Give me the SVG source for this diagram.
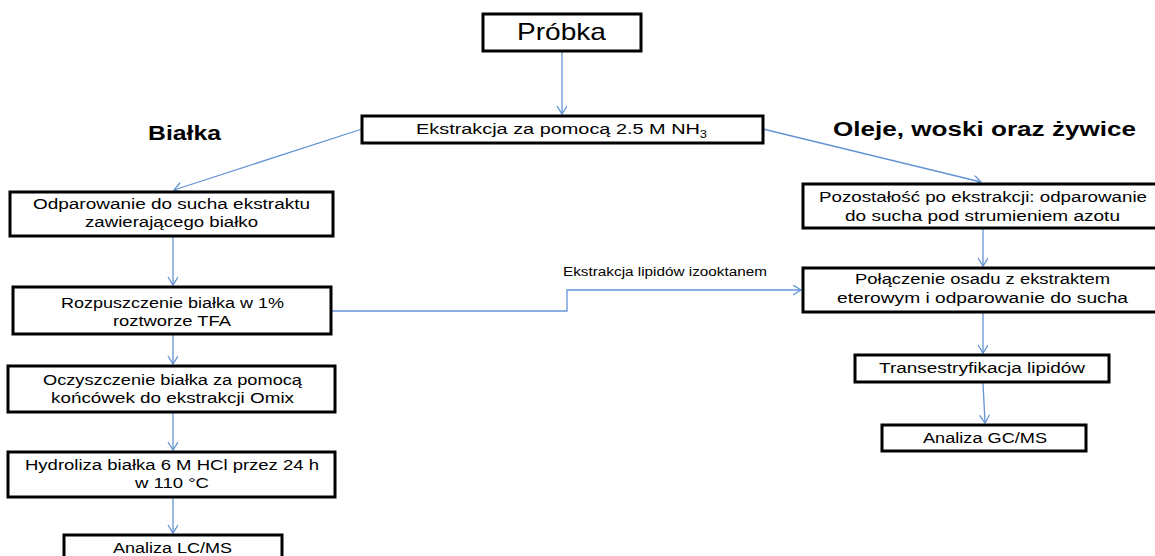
<svg xmlns="http://www.w3.org/2000/svg" width="1155" height="556" viewBox="0 0 1155 556">
<style>
.box{fill:#fff;stroke:#000;stroke-width:3}
.t{font-family:"Liberation Sans",Arial,sans-serif;font-size:15.5px;fill:#000;text-anchor:middle}
.h{font-family:"Liberation Sans",Arial,sans-serif;font-size:20px;font-weight:bold;fill:#000;text-anchor:middle}
.c{fill:none;stroke:#6393d4;stroke-width:1.3}
</style>
<defs>
<marker id="a" markerWidth="12" markerHeight="12" refX="9" refY="5" orient="auto" markerUnits="userSpaceOnUse">
<path d="M1,0 L9,5 L1,10" fill="none" stroke="#6393d4" stroke-width="1.3"/>
</marker>
</defs>
<rect width="1155" height="556" fill="#fff"/>
<g id="connectors">
<path class="c" d="M562,52 L562,114" marker-end="url(#a)"/>
<path class="c" d="M362,129 L174,190" marker-end="url(#a)"/>
<path class="c" d="M763,129 L981,182" marker-end="url(#a)"/>
<path class="c" d="M173,237 L173,285" marker-end="url(#a)"/>
<path class="c" d="M330,311 L567,311 L567,290 L801,290" marker-end="url(#a)"/>
<path class="c" d="M173,335 L173,364" marker-end="url(#a)"/>
<path class="c" d="M173,413 L173,450" marker-end="url(#a)"/>
<path class="c" d="M173,498 L173,533" marker-end="url(#a)"/>
<path class="c" d="M983,229 L983,266" marker-end="url(#a)"/>
<path class="c" d="M983,313 L983,353" marker-end="url(#a)"/>
<path class="c" d="M983,383 L985,423" marker-end="url(#a)"/>
<text x="665" y="276" class="t" style="font-size:12px" textLength="204" lengthAdjust="spacingAndGlyphs">Ekstrakcja lipidów izooktanem</text>
</g>
<g id="title-bialka"><text x="184.5" y="140" class="h" textLength="73" lengthAdjust="spacingAndGlyphs">Białka</text></g>
<g id="title-oleje"><text x="984.5" y="136" class="h" textLength="303" lengthAdjust="spacingAndGlyphs">Oleje, woski oraz żywice</text></g>
<g id="probka">
<rect class="box" x="483" y="14" width="158" height="37"/>
<text x="561.5" y="40" class="t" style="font-size:24px" textLength="89" lengthAdjust="spacingAndGlyphs">Próbka</text>
</g>
<g id="ekstrakcja">
<rect class="box" x="362" y="116" width="401" height="27"/>
<text x="561.5" y="134" class="t" textLength="291" lengthAdjust="spacingAndGlyphs">Ekstrakcja za pomocą 2.5 M NH<tspan dy="4" style="font-size:10px">3</tspan></text>
</g>
<g id="odparowanie">
<rect class="box" x="10" y="192" width="323" height="44"/>
<text x="171.5" y="209" class="t" textLength="277" lengthAdjust="spacingAndGlyphs">Odparowanie do sucha ekstraktu</text>
<text x="171.5" y="227" class="t" textLength="173" lengthAdjust="spacingAndGlyphs">zawierającego białko</text>
</g>
<g id="rozpuszczenie">
<rect class="box" x="13" y="287" width="318" height="47"/>
<text x="172.5" y="308" class="t" textLength="223" lengthAdjust="spacingAndGlyphs">Rozpuszczenie białka w 1%</text>
<text x="172" y="326" class="t" textLength="118" lengthAdjust="spacingAndGlyphs">roztworze TFA</text>
</g>
<g id="oczyszczenie">
<rect class="box" x="8" y="366" width="327" height="46"/>
<text x="172.5" y="385" class="t" textLength="259" lengthAdjust="spacingAndGlyphs">Oczyszczenie białka za pomocą</text>
<text x="172.5" y="403" class="t" textLength="243" lengthAdjust="spacingAndGlyphs">końcówek do ekstrakcji Omix</text>
</g>
<g id="hydroliza">
<rect class="box" x="8" y="452" width="327" height="45"/>
<text x="172" y="470" class="t" textLength="294" lengthAdjust="spacingAndGlyphs">Hydroliza białka 6 M HCl przez 24 h</text>
<text x="172" y="488" class="t" textLength="74" lengthAdjust="spacingAndGlyphs">w 110 °C</text>
</g>
<g id="lcms">
<rect class="box" x="64" y="535" width="218" height="30"/>
<text x="172.5" y="553" class="t" textLength="119" lengthAdjust="spacingAndGlyphs">Analiza LC/MS</text>
</g>
<g id="pozostalosc">
<rect class="box" x="803" y="184" width="360" height="44"/>
<text x="983" y="202" class="t" textLength="328" lengthAdjust="spacingAndGlyphs">Pozostałość po ekstrakcji: odparowanie</text>
<text x="982.5" y="221" class="t" textLength="275" lengthAdjust="spacingAndGlyphs">do sucha pod strumieniem azotu</text>
</g>
<g id="polaczenie">
<rect class="box" x="803" y="268" width="360" height="44"/>
<text x="982.5" y="284" class="t" textLength="255" lengthAdjust="spacingAndGlyphs">Połączenie osadu z ekstraktem</text>
<text x="982.5" y="303" class="t" textLength="291" lengthAdjust="spacingAndGlyphs">eterowym i odparowanie do sucha</text>
</g>
<g id="transestryfikacja">
<rect class="box" x="855" y="355" width="254" height="27"/>
<text x="982" y="373" class="t" textLength="206" lengthAdjust="spacingAndGlyphs">Transestryfikacja lipidów</text>
</g>
<g id="gcms">
<rect class="box" x="882" y="425" width="204" height="26"/>
<text x="985" y="443" class="t" textLength="124" lengthAdjust="spacingAndGlyphs">Analiza GC/MS</text>
</g>
</svg>
